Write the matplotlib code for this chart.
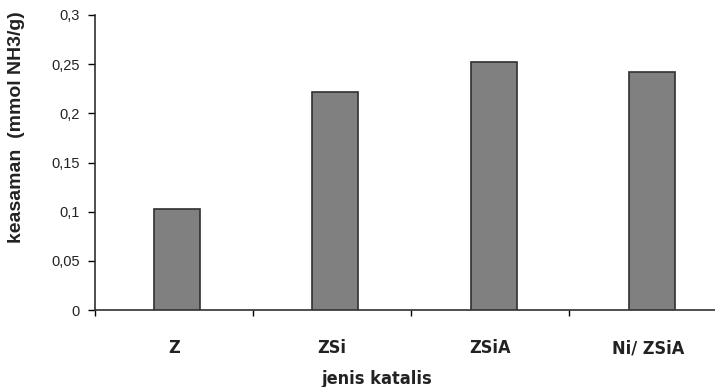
import matplotlib
matplotlib.use("Agg")
import matplotlib.pyplot as plt
from matplotlib.ticker import FixedLocator, NullFormatter
import numpy as np

# jenis katalis vs keasaman
katalis = ["Z", "ZSi", "ZSiA", "Ni/ ZSiA"]
keasaman = [0.103, 0.222, 0.252, 0.242]
yticks = [0, 0.05, 0.1, 0.15, 0.2, 0.25, 0.3]
ylabels = ["0", "0,05", "0,1", "0,15", "0,2", "0,25", "0,3"]

plt.rcParams['font.family'] = ['Liberation Sans', 'DejaVu Sans']

fig = plt.figure(figsize=(7.15, 3.87), dpi=100)
ax = fig.add_axes([95/715, 1 - 310/387, 1 - 95/715, 295/387])

x = np.arange(len(katalis))
ax.bar(x + 0.02, keasaman, width=0.29, color='#808080', edgecolor='#303030', linewidth=1.2, zorder=3)

ax.set_xlim(-0.5, 3.42)
ax.set_ylim(0, 0.3)

ax.set_yticks(yticks)
ax.set_yticklabels(ylabels, fontsize=10.5, color='#222222')
ax.tick_params(axis='y', direction='out', length=5, width=1, pad=6)

# category ticks sit on the boundaries between bars
ax.xaxis.set_major_locator(FixedLocator([-0.5, 0.5, 1.5, 2.5]))
ax.xaxis.set_major_formatter(NullFormatter())
ax.set_xticks(x, minor=True)
ax.set_xticklabels(katalis, minor=True, fontsize=13, fontweight='bold',
                   family='DejaVu Sans', fontstretch='condensed', color='#222222')
ax.tick_params(axis='x', which='major', direction='out', length=4, width=1)
ax.tick_params(axis='x', which='minor', length=0, pad=21)

for s in ['top', 'right']:
    ax.spines[s].set_visible(False)
for s in ['left', 'bottom']:
    ax.spines[s].set_color('#303030')
    ax.spines[s].set_linewidth(1.2)

ax.set_xlabel("jenis katalis", fontsize=13, fontweight='bold',
              family='DejaVu Sans', fontstretch='condensed', color='#222222')
ax.xaxis.set_label_coords((377 - 95) / (715 - 95), -60 / 295)
ax.set_ylabel("keasaman  (mmol NH3/g)", fontsize=14, fontweight='bold', color='#222222')
ax.yaxis.set_label_coords(-70 / 620, 0.62)

fig.savefig("out.png", dpi=100)
